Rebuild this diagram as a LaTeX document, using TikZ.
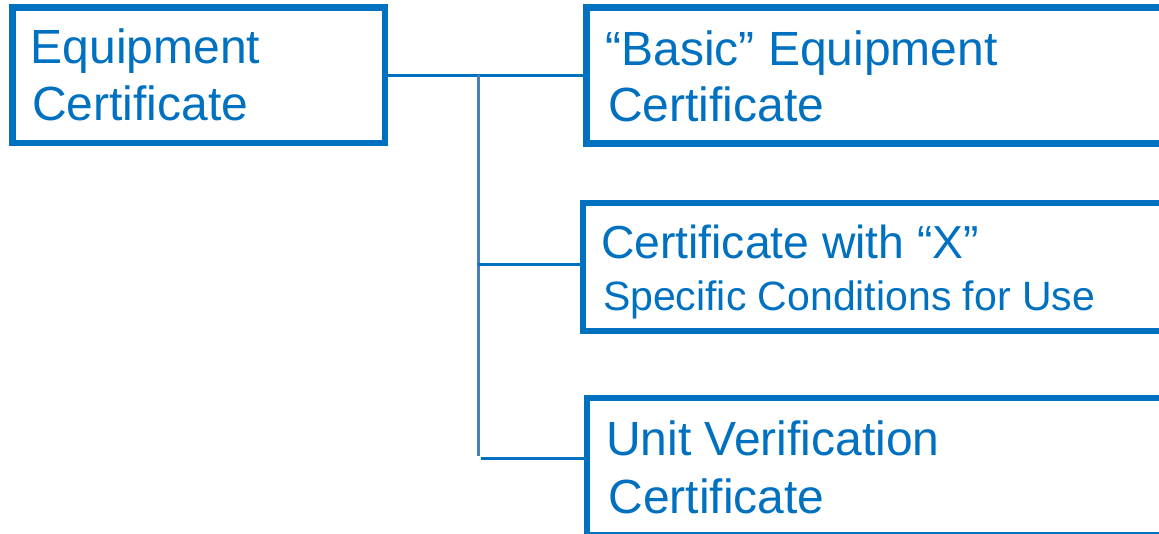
\documentclass[tikz,border=0pt]{standalone}
\usepackage{fontspec}
\setmainfont{Liberation Sans}
\definecolor{certblue}{HTML}{0070C0}
\definecolor{trunkblue}{HTML}{4A7EBB}
\begin{document}
\begin{tikzpicture}[x=1pt,y=-1pt,
  certbox/.style={draw=certblue,line width=6.5pt,rectangle,inner sep=0pt,outer sep=0pt},
  bigtxt/.style={anchor=base west,inner sep=0pt,outer sep=0pt,text=certblue,font=\fontsize{48}{57}\selectfont},
  smalltxt/.style={anchor=base west,inner sep=0pt,outer sep=0pt,text=certblue,font=\fontsize{41}{49}\selectfont},
  branch/.style={draw=certblue,line width=3pt},
  trunk/.style={draw=trunkblue,line width=3pt}]
\useasboundingbox (0,0) rectangle (1159,533);
% boxes
\node[certbox,minimum width=372.3pt,minimum height=135.7pt] (b1) at (198.85,75.15) {};
\node[certbox,minimum width=588.3pt,minimum height=136pt] (b2) at (880.85,75.3) {};
\node[certbox,minimum width=592pt,minimum height=128pt] (b3) at (879,267) {};
\node[certbox,minimum width=588pt,minimum height=137pt] (b4) at (881,466.5) {};
% texts
\node[bigtxt] (t1a) at (30.8,63.3) {Equipment};
\node[bigtxt] (t1b) at (32,120.3) {Certificate};
\node[bigtxt] (t2a) at (605.5,65) {“Basic” Equipment};
\node[bigtxt] (t2b) at (608.3,121.7) {Certificate};
\node[bigtxt,font=\fontsize{46.3}{55}\selectfont] (t3a) at (601,258.3) {Certificate with “X”};
\node[smalltxt] (t3b) at (603,310) {Specific Conditions for Use};
\node[bigtxt] (t4a) at (606.2,455) {Unit Verification};
\node[bigtxt] (t4b) at (608.4,513.3) {Certificate};
% connectors
\coordinate (jt) at (478.3,75);
\coordinate (jb) at (478.3,456);
\coordinate (j3) at (478.3,264.7);
\coordinate (j4) at (480.7,458.3);
\draw[branch] (b1.east |- jt) -- (b2.west |- jt);
\draw[trunk] (jt) -- (jb);
\draw[branch] (j3) -- (b3.west |- j3);
\draw[branch] (j4) -- (b4.west |- j4);
\end{tikzpicture}
\end{document}
